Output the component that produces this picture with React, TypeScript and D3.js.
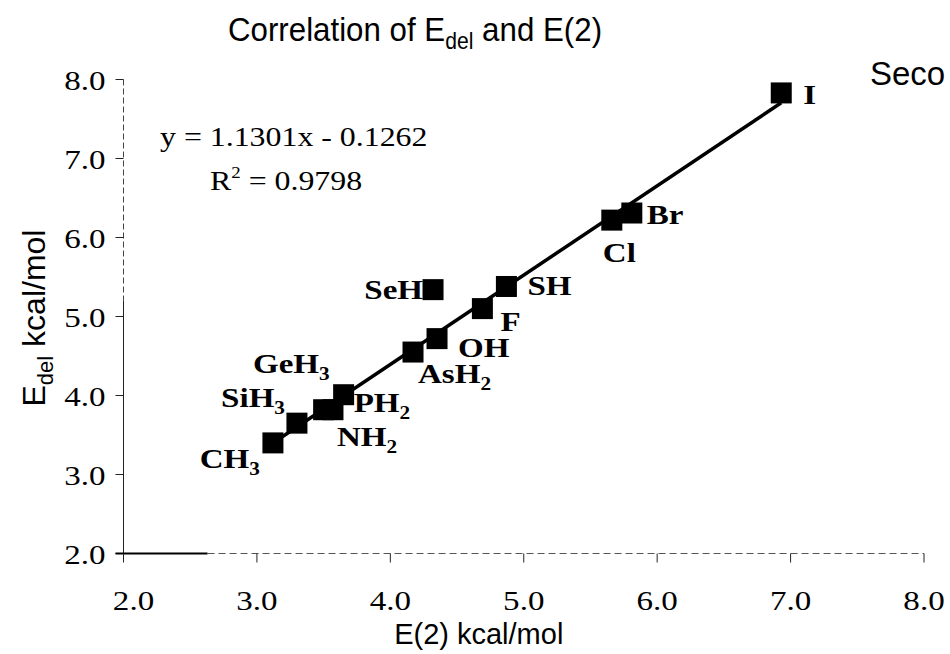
import React from "react";
import * as d3 from "d3";

// substituent groups
const groups = ["CH3", "SiH3", "GeH3", "NH2", "PH2", "AsH2", "OH", "SeH", "F", "SH", "Cl", "Br", "I"];
const e2Values = [3.12, 3.3, 3.5, 3.57, 3.65, 4.17, 4.35, 4.32, 4.69, 4.87, 5.66, 5.81, 6.93];
const edelValues = [3.4, 3.65, 3.82, 3.82, 4.01, 4.55, 4.72, 5.34, 5.1, 5.38, 6.22, 6.31, 7.83];

const xTicks = [2, 3, 4, 5, 6, 7, 8];
const yTicks = [2, 3, 4, 5, 6, 7, 8];

// linear fit shown on the chart
const slope = 1.1301;
const intercept = -0.1262;
const rSquared = 0.9798;

const size = { width: 950, height: 654 };
const plot = { left: 123.5, right: 924, top: 79.5, bottom: 553.5 };

// where each label sits relative to its marker: [dx, dy, anchor]
const labelPlace: Record<string, [number, number, string]> = {
  CH3: [-13, 25, "end"],
  SiH3: [-12, -16, "end"],
  GeH3: [6, -37, "end"],
  NH2: [4, 36, "start"],
  PH2: [10, 17, "start"],
  AsH2: [5, 31, "start"],
  OH: [21, 18, "start"],
  SeH: [-10, 9, "end"],
  F: [18, 22, "start"],
  SH: [21, 9, "start"],
  Cl: [-9, 42, "start"],
  Br: [15, 11, "start"],
  I: [22, 11, "start"]
};

const serif = "'Liberation Serif', 'Times New Roman', serif";
const sans = "'Liberation Sans', Arial, sans-serif";

// the scanned part of the figure is a bit wider than plain Times
const stretch = 1.18;

function Label(props: { name: string; x: number; y: number }) {
  const [dx, dy, anchor] = labelPlace[props.name];
  const m = props.name.match(/^(.*?)(\d)$/);
  const base = m ? m[1] : props.name;
  const sub = m ? m[2] : null;
  return (
    <g transform={`translate(${props.x + dx},${props.y + dy}) scale(${stretch},1)`}>
      <text textAnchor={anchor} fontFamily={serif} fontWeight="bold" fontSize={28}>
        {base}
        {sub && (
          <tspan dy={7} fontSize={18}>
            {sub}
          </tspan>
        )}
      </text>
    </g>
  );
}

export default function App() {
  const x = d3.scaleLinear().domain([2, 8]).range([plot.left, plot.right]);
  const y = d3.scaleLinear().domain([2, 8]).range([plot.bottom, plot.top]);

  const xMin = d3.min(e2Values) as number;
  const xMax = d3.max(e2Values) as number;
  const fit = d3
    .line<number>()
    .x(d => x(d))
    .y(d => y(slope * d + intercept))([xMin, xMax]);

  const markerSize = 21;

  return (
    <div style={{ position: "absolute", left: 0, top: 0 }}>
      <svg width={size.width} height={size.height} style={{ display: "block", background: "white" }}>
        {/* title */}
        <g transform="translate(415,41) scale(0.92,1)">
          <text textAnchor="middle" fontFamily={sans} fontSize={34}>
            Correlation of E
            <tspan dy={8} fontSize={23}>del</tspan>
            <tspan dy={-8}> and E(2)</tspan>
          </text>
        </g>
        <text x={870} y={85} fontFamily={sans} fontSize={33}>
          Seco
        </text>

        {/* y axis */}
        <line x1={plot.left} x2={plot.left} y1={plot.top} y2={y(5.2)} stroke="#444" strokeWidth={1} strokeDasharray="6 3" />
        <line x1={plot.left} x2={plot.left} y1={y(5.2)} y2={plot.bottom + 8} stroke="#222" strokeWidth={1} />
        {yTicks.map(t => (
          <g key={`yt${t}`}>
            <line x1={plot.left - 8} x2={plot.left} y1={y(t)} y2={y(t)} stroke="#222" strokeWidth={1} />
            <g transform={`translate(${plot.left - 18},${y(t) + 10}) scale(${stretch},1)`}>
              <text textAnchor="end" fontFamily={serif} fontSize={28}>
                {t.toFixed(1)}
              </text>
            </g>
          </g>
        ))}

        {/* x axis */}
        <line x1={plot.left - 8} x2={x(2.63)} y1={plot.bottom} y2={plot.bottom} stroke="#000" strokeWidth={2} />
        <line x1={x(2.63)} x2={plot.right} y1={plot.bottom} y2={plot.bottom} stroke="#555" strokeWidth={1} strokeDasharray="7 4" />
        {xTicks.map(t => (
          <g key={`xt${t}`}>
            <line x1={x(t)} x2={x(t)} y1={plot.bottom} y2={plot.bottom + 9} stroke="#222" strokeWidth={1} />
            <g transform={`translate(${x(t) + (t === 2 ? 10 : 0)},610) scale(${stretch},1)`}>
              <text textAnchor="middle" fontFamily={serif} fontSize={28}>
                {t.toFixed(1)}
              </text>
            </g>
          </g>
        ))}

        {/* axis titles */}
        <text x={(plot.left + plot.right) / 2 - 45} y={644} textAnchor="middle" fontFamily={sans} fontSize={29}>
          E(2) kcal/mol
        </text>
        <text transform="translate(45,318) rotate(-90)" textAnchor="middle" fontFamily={sans} fontSize={32}>
          E
          <tspan dy={8} fontSize={22}>del</tspan>
          <tspan dy={-8}> kcal/mol</tspan>
        </text>

        {/* fit line */}
        <path d={fit || ""} fill="none" stroke="#000" strokeWidth={3.5} />

        {/* markers */}
        {groups.map((g, i) => (
          <rect
            key={`m${g}`}
            x={x(e2Values[i]) - markerSize / 2}
            y={y(edelValues[i]) - markerSize / 2}
            width={markerSize}
            height={markerSize}
            fill="#000"
          />
        ))}
        {groups.map((g, i) => (
          <Label key={`l${g}`} name={g} x={x(e2Values[i])} y={y(edelValues[i])} />
        ))}

        {/* equation */}
        <g transform={`translate(160,146) scale(${stretch},1)`}>
          <text fontFamily={serif} fontSize={27}>
            y = {slope}x - {Math.abs(intercept)}
          </text>
        </g>
        <g transform={`translate(210,190) scale(${stretch},1)`}>
          <text fontFamily={serif} fontSize={27}>
            R
            <tspan dy={-12} fontSize={16}>2</tspan>
            <tspan dy={12}> = {rSquared}</tspan>
          </text>
        </g>
      </svg>
    </div>
  );
}
